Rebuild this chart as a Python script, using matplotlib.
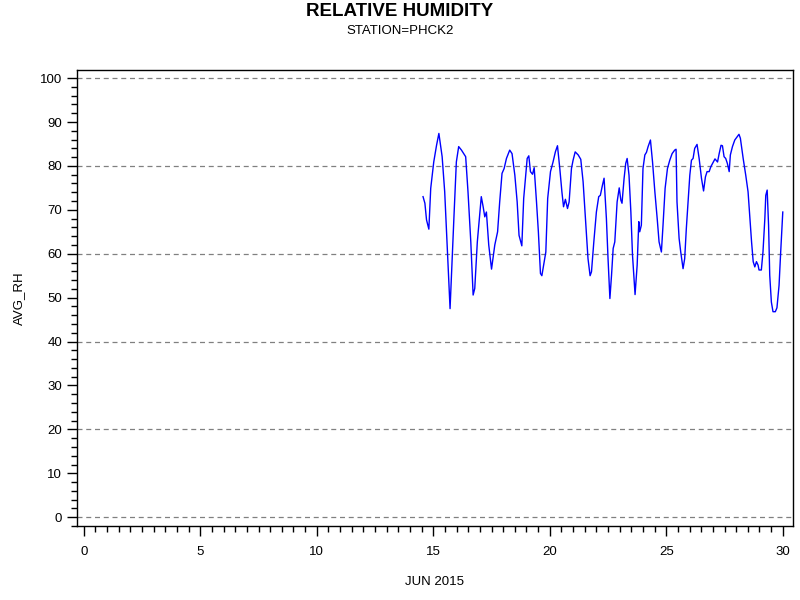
import matplotlib
matplotlib.use("Agg")
import matplotlib.pyplot as plt
from matplotlib.ticker import MultipleLocator

plt.rcParams['font.family'] = ['Liberation Sans', 'DejaVu Sans']

# Day of June 2015 (fractional) and average relative humidity
DAY = [14.56, 14.64, 14.71, 14.81, 14.89, 15.02, 15.14, 15.24, 15.38, 15.49,
       15.61, 15.72, 15.81, 15.89, 15.99, 16.09, 16.21, 16.39, 16.49, 16.61,
       16.71, 16.78, 16.89, 17.06, 17.14, 17.21, 17.28, 17.38, 17.50, 17.64,
       17.76, 17.85, 17.95, 18.04, 18.14, 18.28, 18.38, 18.50, 18.60, 18.68,
       18.80, 18.88, 18.97, 19.03, 19.10, 19.17, 19.26, 19.33, 19.43, 19.51,
       19.60, 19.66, 19.71, 19.83, 19.91, 20.03, 20.14, 20.24, 20.33, 20.43,
       20.52, 20.59, 20.67, 20.76, 20.83, 20.93, 21.00, 21.09, 21.22, 21.33,
       21.43, 21.55, 21.64, 21.73, 21.79, 21.89, 22.00, 22.10, 22.17, 22.26,
       22.33, 22.43, 22.50, 22.58, 22.65, 22.72, 22.79, 22.89, 22.98, 23.05,
       23.10, 23.19, 23.26, 23.32, 23.40, 23.48, 23.55, 23.66, 23.75, 23.82,
       23.86, 23.93, 24.00, 24.08, 24.15, 24.22, 24.32, 24.41, 24.51, 24.61,
       24.69, 24.79, 24.86, 24.95, 25.05, 25.15, 25.25, 25.36, 25.42, 25.46,
       25.55, 25.62, 25.72, 25.79, 25.86, 26.01, 26.08, 26.15, 26.22, 26.32,
       26.41, 26.51, 26.60, 26.68, 26.75, 26.84, 26.91, 27.01, 27.09, 27.20,
       27.27, 27.35, 27.41, 27.48, 27.55, 27.62, 27.70, 27.75, 27.84, 27.94,
       28.04, 28.12, 28.18, 28.30, 28.41, 28.51, 28.58, 28.66, 28.73, 28.80,
       28.87, 28.94, 28.98, 29.08, 29.15, 29.23, 29.27, 29.33, 29.39, 29.44,
       29.51, 29.58, 29.68, 29.75, 29.84, 29.91, 30.00]
RH = [73.0, 71.5, 67.7, 65.6, 74.9, 80.9, 84.7, 87.4, 82.1, 74.1,
      60.4, 47.5, 58.9, 68.8, 80.9, 84.4, 83.6, 82.1, 74.1, 62.7,
      50.6, 52.1, 62.7, 73.0, 70.7, 68.4, 69.5, 62.0, 56.5, 62.0,
      65.0, 71.8, 78.3, 79.4, 81.7, 83.6, 82.8, 77.9, 71.8, 64.2,
      61.8, 72.6, 77.9, 81.7, 82.3, 78.7, 78.1, 79.6, 71.8, 65.0,
      55.5, 55.0, 56.6, 60.4, 72.6, 78.7, 80.9, 83.2, 84.6, 79.4,
      74.1, 70.7, 72.4, 70.3, 71.8, 79.4, 81.3, 83.2, 82.5, 81.5,
      76.4, 66.5, 58.9, 55.0, 55.9, 62.7, 69.5, 73.0, 73.3, 75.6,
      77.2, 68.0, 58.9, 49.8, 55.1, 61.2, 62.7, 71.8, 75.0, 72.2,
      71.5, 77.2, 80.6, 81.7, 77.9, 69.5, 59.7, 50.7, 57.4, 67.3,
      65.0, 66.5, 79.4, 82.5, 83.1, 84.4, 85.9, 80.9, 74.1, 68.0,
      62.7, 60.4, 66.5, 74.9, 79.4, 81.3, 82.8, 83.6, 83.8, 71.8,
      63.5, 60.4, 56.6, 58.9, 65.7, 77.9, 81.3, 81.7, 84.0, 84.9,
      81.7, 77.2, 74.3, 77.5, 78.7, 78.7, 79.8, 80.8, 81.6, 80.9,
      82.8, 84.7, 84.6, 82.1, 81.7, 80.6, 78.7, 82.5, 84.4, 85.9,
      86.6, 87.2, 86.3, 81.7, 77.9, 74.1, 68.8, 62.7, 58.2, 57.0,
      58.2, 57.4, 56.3, 56.3, 60.4, 68.0, 73.3, 74.5, 66.5, 55.1,
      49.0, 46.8, 46.8, 47.7, 52.8, 60.4, 69.5]

X_TICKS = [0, 5, 10, 15, 20, 25, 30]
Y_TICKS = list(range(0, 101, 10))
GRID_Y = [0, 20, 40, 60, 80, 100]

fig = plt.figure(figsize=(8, 6), dpi=100)
ax = fig.add_axes([0.096, 0.123, 0.895, 0.760])

for g in GRID_Y:
    ax.axhline(g, color='#808080', lw=0.9, ls=(0, (4, 3)), zorder=1)

ax.plot(DAY, RH, color='#0000ff', lw=1.0, zorder=3)

ax.set_xlim(-0.30, 30.43)
ax.set_ylim(-2.05, 101.8)
ax.set_xticks(X_TICKS)
ax.set_yticks(Y_TICKS)
ax.xaxis.set_minor_locator(MultipleLocator(0.5))
ax.yaxis.set_minor_locator(MultipleLocator(2))
ax.tick_params(which='major', direction='out', length=7, width=1, labelsize=9.5, color='black')
ax.tick_params(which='minor', direction='out', length=4, width=1, color='black')
ax.tick_params(axis='x', pad=7)
for s in ax.spines.values():
    s.set_linewidth(1)

ax.set_ylabel('AVG_RH', fontsize=9.5, labelpad=11)
ax.set_xlabel('JUN 2015', fontsize=9.5, labelpad=13)

fig.text(0.5, 0.981, 'RELATIVE HUMIDITY', ha='center', va='center', fontsize=13.5, fontweight='bold')
fig.text(0.5, 0.949, 'STATION=PHCK2', ha='center', va='center', fontsize=9.5)

fig.savefig('out.png', dpi=100)
